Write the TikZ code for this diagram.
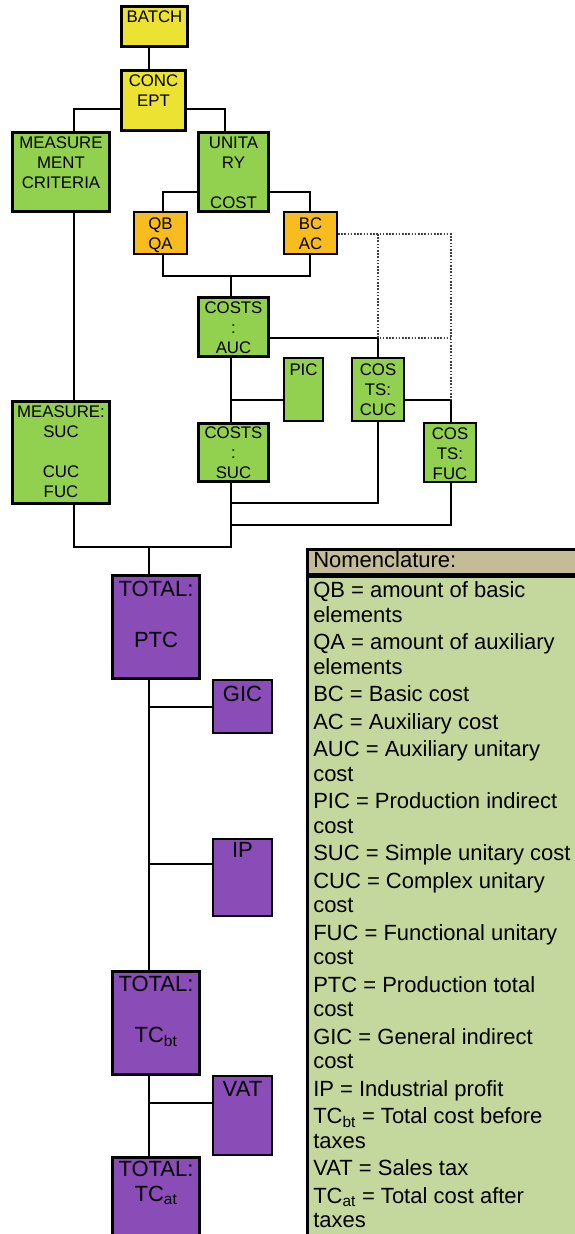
\documentclass[tikz,border=0pt]{standalone}
\usepackage{fontspec}
\setmainfont{Liberation Sans}
\usepackage{tikz}
\usetikzlibrary{calc,backgrounds}
\definecolor{batchyellow}{RGB}{236,226,50}
\definecolor{costgreen}{RGB}{146,208,80}
\definecolor{qborange}{RGB}{249,188,30}
\definecolor{totalpurple}{RGB}{138,76,182}
\definecolor{nomtan}{RGB}{196,188,150}
\definecolor{nomgreen}{RGB}{196,215,156}
\newcommand{\chartfont}{\fontsize{16.8}{20}\selectfont}
\newcommand{\totalfont}{\fontsize{22}{25.5}\selectfont}
\newcommand{\nomfont}{\fontsize{22}{24.5}\selectfont}
\newcommand{\inbox}[4][4]{\parbox[c][#3pt][t]{#2pt}{\centering\vspace*{#1pt}#4}}
\tikzstyle{chart}=[
  x=1pt,y=-1pt,font=\chartfont
]
\tikzstyle{mainbox}=[
  draw,line width=3pt,inner sep=0pt
]
\tikzstyle{subbox}=[
  draw,line width=2pt,inner sep=0pt
]
\tikzstyle{totalbox}=[
  fill=totalpurple,font=\totalfont
]
\tikzstyle{nombox}=[
  draw,line width=2.5pt,inner xsep=6pt,inner ysep=0pt,anchor=north west,font=\nomfont
]
\tikzstyle{link}=[
  line width=2pt
]
\tikzstyle{maybelink}=[
  line width=1.2pt,black!75,dash pattern=on 1.6pt off 1.6pt
]

\begin{document}
\begin{tikzpicture}[chart]
    \useasboundingbox (0,0) rectangle (575,1234);
    \clip (0,0) rectangle (575,1234);
    % cost tree
    \node (batch) at (154.5,26.5) [mainbox,fill=batchyellow] {\inbox{66}{40}{BATCH}};
    \node (concept) at (153.5,100.5) [mainbox,fill=batchyellow] {\inbox{64}{60}{CONC\\EPT}};
    \node (measc) at (61,172) [mainbox,fill=costgreen] {\inbox{97}{79}{MEASURE\\MENT\\CRITERIA}};
    \node (unitary) at (233.5,172) [mainbox,fill=costgreen] {\inbox{70}{79}{UNITA\\RY\\~\\COST}};
    \node (qbqa) at (160.5,233) [subbox,fill=qborange] {\inbox[6]{53}{42}{QB\\QA}};
    \node (bcac) at (310.5,233) [subbox,fill=qborange] {\inbox[6]{53}{42}{BC\\AC}};
    \node (auc) at (233.5,327) [mainbox,fill=costgreen] {\inbox{70}{59}{COSTS\\:\\AUC}};
    \node (pic) at (303.5,389.5) [subbox,fill=costgreen] {\inbox[6]{39}{63}{PIC}};
    \node (cuc) at (378,389.5) [subbox,fill=costgreen] {\inbox[6]{52}{63}{COS\\TS:\\CUC}};
    \node (suc) at (233.5,452.5) [mainbox,fill=costgreen] {\inbox[3]{70}{58}{COSTS\\:\\SUC}};
    \node (fuc) at (450,452.5) [subbox,fill=costgreen] {\inbox[5]{52}{59}{COS\\TS:\\FUC}};
    \node (measure) at (61,452.5) [mainbox,fill=costgreen] {\inbox{97}{102}{MEASURE:\\SUC\\~\\CUC\\FUC}};
    % totals
    \node (ptc) at (156,627) [mainbox,totalbox] {\inbox[5.5]{87}{103}{TOTAL:\\~\\PTC}};
    \node (gic) at (242.5,706.5) [subbox,totalbox] {\inbox[6]{59}{53}{GIC}};
    \node (ip) at (242.5,877.5) [subbox,totalbox] {\inbox[3]{59}{77}{IP}};
    \node (tcbt) at (156,1023) [mainbox,totalbox] {\inbox[4.5]{87}{103}{TOTAL:\\~\\TC\textsubscript{bt}}};
    \node (vat) at (242.5,1115.5) [subbox,totalbox] {\inbox[5]{59}{79}{VAT}};
    \node (tcat) at (156,1202.5) [mainbox,totalbox] {\inbox[3.5]{87}{90}{TOTAL:\\TC\textsubscript{at}}};
    % nomenclature
    \node (nomhead) at (306,548) [nombox,fill=nomtan] {\parbox[c][24.5pt][t]{270pt}{\vspace*{2.5pt}Nomenclature:}};
    \node (nombody) at (nomhead.south west) [nombox,fill=nomgreen] {\parbox[c][680pt][t]{270pt}{\raggedright\vspace*{5.5pt}%
      QB = amount of basic\\ elements\\[3pt]
      QA = amount of auxiliary\\ elements\\[3pt]
      BC = Basic cost\\[3pt]
      AC = Auxiliary cost\\[3pt]
      AUC = Auxiliary unitary\\ cost\\[3pt]
      PIC = Production indirect\\ cost\\[3pt]
      SUC = Simple unitary cost\\[3pt]
      CUC = Complex unitary\\ cost\\[3pt]
      FUC = Functional unitary\\ cost\\[3pt]
      PTC = Production total\\ cost\\[3pt]
      GIC = General indirect\\ cost\\[3pt]
      IP = Industrial profit\\[3pt]
      TC\textsubscript{bt} = Total cost before\\ taxes\\[3pt]
      VAT = Sales tax\\[3pt]
      TC\textsubscript{at} = Total cost after\\ taxes}};
    % junctions
    \coordinate (cpl) at (74,109);
    \coordinate (cpr) at (225,109);
    \coordinate (unl) at (163,192);
    \coordinate (unr) at (310,192);
    \coordinate (aucj) at (231,276);
    \coordinate (cucj) at (378,338);
    \coordinate (picj) at (231,400);
    \coordinate (fucj) at (451,400);
    \coordinate (cucb) at (231,503);
    \coordinate (fucb) at (231,525);
    \coordinate (sucb) at (231,547);
    \coordinate (measb) at (74,547);
    \coordinate (ptcj) at (148.5,547);
    \coordinate (gicj) at (148.5,707);
    \coordinate (ipj) at (148.5,864);
    \coordinate (vatj) at (148.5,1103);
    \coordinate (bcdot) at (451,234);
    \begin{scope}[on background layer]
      \draw [link] (batch.south -| ptcj) -- (concept.north -| ptcj);
      \draw [link] (concept.west |- cpl) -- (cpl) -- (measc.north -| cpl);
      \draw [link] (concept.east |- cpr) -- (cpr) -- (unitary.north -| cpr);
      \draw [link] (unitary.west |- unl) -- (unl) -- (qbqa.north -| unl);
      \draw [link] (unitary.east |- unr) -- (unr) -- (bcac.north -| unr);
      \draw [link] (qbqa.south -| unl) -- (unl |- aucj) -- (unr |- aucj) -- (bcac.south -| unr);
      \draw [link] (aucj) -- (auc.north -| aucj);
      \draw [link] (auc.east |- cucj) -- (cucj) -- (cuc.north -| cucj);
      \draw [link] (auc.south -| aucj) -- (suc.north -| aucj);
      \draw [link] (pic.west |- picj) -- (picj);
      \draw [link] (cuc.east |- fucj) -- (fucj) -- (fuc.north -| fucj);
      \draw [link] (cuc.south -| cucj) |- (cucb);
      \draw [link] (fuc.south -| fucj) |- (fucb);
      \draw [link] (suc.south -| sucb) -- (sucb) -- (measb) -- (measure.south -| measb);
      \draw [link] (measc.south -| measb) -- (measure.north -| measb);
      \draw [link] (ptcj) -- (ptc.north -| ptcj);
      \draw [link] (ptc.south -| ptcj) -- (tcbt.north -| ptcj);
      \draw [link] (gic.west |- gicj) -- (gicj);
      \draw [link] (ip.west |- ipj) -- (ipj);
      \draw [link] (tcbt.south -| ptcj) -- (tcat.north -| ptcj);
      \draw [link] (vat.west |- vatj) -- (vatj);
      \draw [maybelink] (bcac.east |- bcdot) -- (bcdot) -- (fucj);
      \draw [maybelink] (cucj |- bcdot) -- (cucj) -- (cucj -| fucj);
    \end{scope}
\end{tikzpicture}
\end{document}
